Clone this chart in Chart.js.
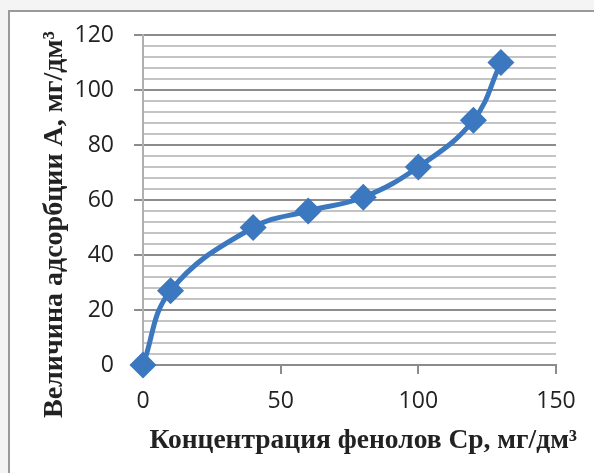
<!DOCTYPE html>
<html>
  <head>
    <script src="https://cdn.jsdelivr.net/npm/chart.js"></script>
    <style>
      body {
        margin: 0;
        background: #f4f4f4;
      }

      .frame {
        position: absolute;
        left: 8px;
        top: 10px;
        width: 600px;
        height: 480px;
        background: #ffffff;
        border-left: 2px solid #9a9a9a;
        border-top: 2px solid #9a9a9a;
      }

      .chart-container {
        position: absolute;
        left: 0;
        top: 0;
        width: 594px;
        height: 473px;
      }
    </style>
  </head>
  <body>
    <div class="frame"></div>
    <div class="chart-container">
      <canvas id="myChart"></canvas>
    </div>

    <script>
      // concentration of phenols, mg/dm3
      const concentration = [0, 10, 40, 60, 80, 100, 120, 130];
      // adsorption value A, mg/dm3
      const adsorption = [0, 27, 50, 56, 61, 72, 89, 110];

      const xTitle = "Концентрация фенолов Ср, мг/дм³";
      const yTitle = "Величина адсорбции А, мг/дм³";

      // non-breaking spaces nudge the titles off centre, like the original
      const nb = (n) => "\u00a0".repeat(n);

      // Chart.js squeezes axis titles to the plot size (maxWidth);
      // the original titles run past the plot, so drop that limit
      function freeTitle(scale) {
        if (scale._free) return;
        scale._free = true;
        const orig = scale.drawTitle.bind(scale);
        scale.drawTitle = function () {
          const c = this.ctx;
          const fill = c.fillText;
          c.fillText = function (t, x, y) {
            return fill.call(this, t, x, y);
          };
          orig();
          delete c.fillText;
        };
      }

      const points = concentration.map((x, i) => ({ x: x, y: adsorption[i] }));

      const ctx = document.getElementById("myChart").getContext("2d");
      new Chart(ctx, {
        type: "line",
        data: {
          datasets: [
            {
              data: points,
              borderColor: "#3b78bf",
              backgroundColor: "#3b78bf",
              borderWidth: 5,
              tension: 0.4,
              pointStyle: "rectRot",
              pointRadius: 10,
              pointHoverRadius: 10,
              fill: false,
              clip: false,
            },
          ],
        },
        options: {
          responsive: true,
          maintainAspectRatio: false,
          animation: false,
          layout: {
            padding: { left: 38, right: 38, top: 35, bottom: 16 },
          },
          plugins: {
            legend: { display: false },
            tooltip: { enabled: false },
          },
          scales: {
            x: {
              type: "linear",
              min: 0,
              max: 150,
              ticks: {
                stepSize: 50,
                color: "#222",
                font: { family: "Open Sans", size: 23 },
                padding: 14,
              },
              grid: {
                drawOnChartArea: false,
                color: "#8c8c8c",
                lineWidth: 2,
                tickLength: 9,
              },
              border: { color: "#8c8c8c", width: 2 },
              title: {
                display: true,
                text: nb(4) + xTitle,
                color: "#222",
                font: { family: "Liberation Serif", size: 27.5, weight: "bold" },
                padding: { top: 4, bottom: 0 },
              },
              afterFit: (scale) => {
                scale.height = 92;
                freeTitle(scale);
              },
            },
            y: {
              min: 0,
              max: 120,
              ticks: {
                stepSize: 4,
                autoSkip: false,
                color: "#222",
                font: { family: "Open Sans", size: 23, lineHeight: 0.8 },
                padding: 20,
                callback: (v) => (v % 20 === 0 ? v : ""),
              },
              grid: {
                color: (c) => (c.tick && c.tick.value % 20 === 0 ? "#8c8c8c" : "#c4c4c4"),
                lineWidth: 2,
                tickLength: 9,
                tickColor: (c) => (c.tick && c.tick.value % 20 === 0 ? "#8c8c8c" : "rgba(0,0,0,0)"),
              },
              border: { color: "#b0b0b0", width: 2 },
              title: {
                display: true,
                text: yTitle + nb(7),
                color: "#222",
                font: { family: "Liberation Serif", size: 28, weight: "bold" },
                padding: { top: 0, bottom: 0 },
              },
              afterFit: (scale) => {
                scale.width = 105;
                freeTitle(scale);
              },
            },
          },
        },
      });
    </script>
  </body>
</html>
